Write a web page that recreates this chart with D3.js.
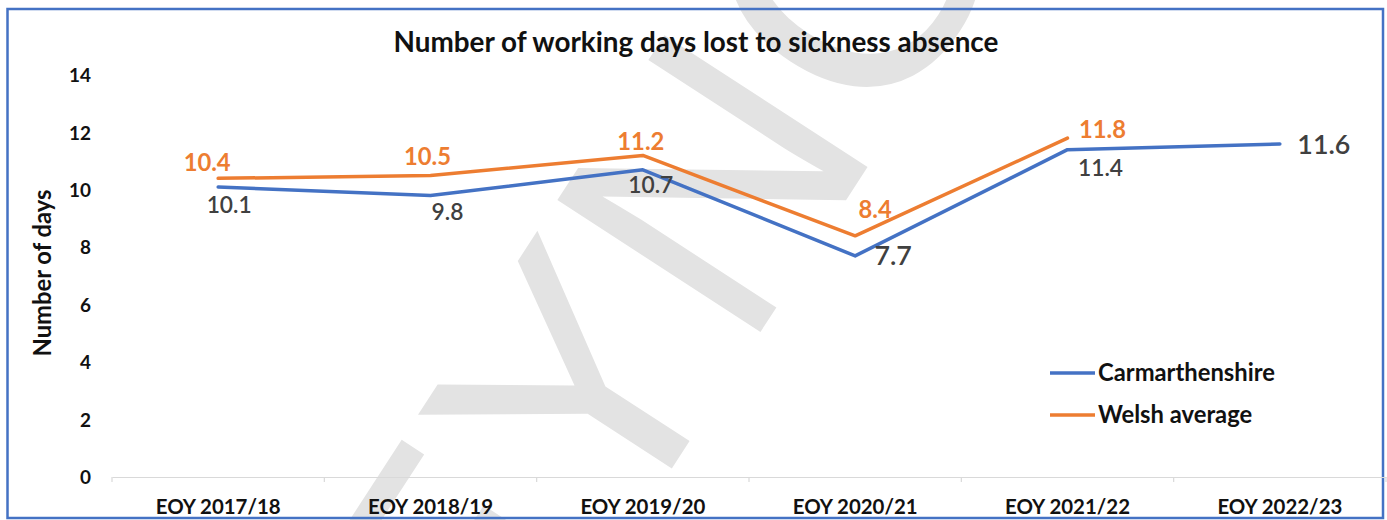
<!DOCTYPE html>
<html>
<head>
<meta charset="utf-8">
<script src="https://cdn.jsdelivr.net/npm/d3@7"></script>
<style>
  html, body { margin: 0; padding: 0; background: #fff; }
  svg { display: block; }
</style>
</head>
<body>
<svg id="chart" width="1387" height="520"></svg>
<script>
// ---- data ----
const categories = ["EOY 2017/18", "EOY 2018/19", "EOY 2019/20", "EOY 2020/21", "EOY 2021/22", "EOY 2022/23"];
const carmarthenshire = [10.1, 9.8, 10.7, 7.7, 11.4, 11.6];
const welshAverage = [10.4, 10.5, 11.2, 8.4, 11.8, null];
const yTicks = [0, 2, 4, 6, 8, 10, 12, 14];
const seriesNames = ["Carmarthenshire", "Welsh average"];
const titleText = "Number of working days lost to sickness absence";
const yAxisTitle = "Number of days";
const watermarkText = "EYNC";

// ---- layout ----
const W = 1387, H = 520;
const FONT = "Lato, 'Open Sans', sans-serif";
const blue = "#4472C4", orange = "#ED7D31", labelGrey = "#404040";

// label nudges (dx, dy from the point to the label centre)
const blueLabelNudge = [[11, 18], [17, 16], [8, 15], [38, 0], [33, 18], [44, 1]];
const orangeLabelNudge = [[-11, -16], [-3, -19], [-2, -14], [20, -26], [35, -8], [0, 0]];
const blueLabelBig = [false, false, false, true, false, true];

const svg = d3.select("#chart");

const x = d3.scaleBand().domain(categories).range([112, 1386]).padding(0);
const y = d3.scaleLinear().domain([0, 14]).range([477, 75]);
const cx = c => x(c) + x.bandwidth() / 2;

// scale a text's font size so that its rendered width equals target
function fitWidth(sel, target) {
  const w = sel.node().getComputedTextLength();
  const fs = parseFloat(sel.attr("font-size"));
  const nfs = fs * target / w;
  sel.attr("font-size", nfs);
  return nfs;
}
function measureSize(str, weight, base, target) {
  const t = svg.append("text").attr("font-family", FONT).attr("font-weight", weight)
    .attr("font-size", base).text(str);
  const s = fitWidth(t, target);
  t.remove();
  return s;
}

// ---- background watermark ----
svg.append("text")
  .attr("font-family", "'Liberation Sans', Arial, sans-serif")
  .attr("font-size", 352)
  .attr("fill", "#e3e3e3")
  .attr("transform", "translate(489,750) rotate(-57)")
  .text(watermarkText);

// ---- frame ----
svg.append("rect")
  .attr("x", 7.5).attr("y", 9).attr("width", 1375.5).attr("height", 509)
  .attr("fill", "none").attr("stroke", blue).attr("stroke-width", 2.5);

// ---- title ----
const title = svg.append("text")
  .attr("x", 696).attr("y", 52)
  .attr("text-anchor", "middle")
  .attr("font-family", FONT).attr("font-weight", 700).attr("font-size", 24)
  .attr("fill", "#111")
  .text(titleText);
fitWidth(title, 605);

// ---- y axis (labels only) ----
const tickSize = measureSize("14", 700, 18, 22);
const yAxis = d3.axisLeft(y).tickValues(yTicks).tickSize(0).tickPadding(0).tickFormat(d3.format("d"));
const yg = svg.append("g").attr("transform", "translate(91,0)").call(yAxis);
yg.select(".domain").remove();
yg.selectAll("text")
  .attr("font-family", FONT).attr("font-weight", 700).attr("font-size", tickSize)
  .attr("fill", "#111").attr("dy", "0.35em");

const yTitle = svg.append("text")
  .attr("transform", "translate(43,273) rotate(-90)")
  .attr("text-anchor", "middle").attr("dy", "0.35em")
  .attr("font-family", FONT).attr("font-weight", 700).attr("font-size", 18)
  .attr("fill", "#111")
  .text(yAxisTitle);
fitWidth(yTitle, 167);

// ---- x axis ----
const catSize = measureSize(categories[0], 700, 18, 125);
const xAxis = d3.axisBottom(x).tickSize(0).tickPadding(0);
const xg = svg.append("g").attr("transform", "translate(0,477)").call(xAxis);
xg.select(".domain").attr("stroke", "#d9d9d9").attr("stroke-width", 1.2);
xg.selectAll(".tick text")
  .attr("y", 30).attr("dy", "0.35em")
  .attr("font-family", FONT).attr("font-weight", 700).attr("font-size", catSize)
  .attr("fill", "#111");
// category boundary tick marks
const bounds = categories.map(c => x(c)).concat([x.range()[1]]);
xg.selectAll("line.bound").data(bounds).enter().append("line")
  .attr("class", "bound")
  .attr("x1", d => d).attr("x2", d => d).attr("y1", 0).attr("y2", 5)
  .attr("stroke", "#d9d9d9").attr("stroke-width", 1.2);

// ---- lines ----
const line = d3.line()
  .defined(d => d.v != null)
  .x(d => cx(d.c)).y(d => y(d.v));

const blueData = categories.map((c, i) => ({ c, v: carmarthenshire[i] }));
const orangeData = categories.map((c, i) => ({ c, v: welshAverage[i] }));

svg.append("path").datum(blueData).attr("d", line)
  .attr("fill", "none").attr("stroke", blue).attr("stroke-width", 3.5)
  .attr("stroke-linejoin", "round").attr("stroke-linecap", "round");
svg.append("path").datum(orangeData).attr("d", line)
  .attr("fill", "none").attr("stroke", orange).attr("stroke-width", 3.5)
  .attr("stroke-linejoin", "round").attr("stroke-linecap", "round");

// ---- data labels ----
const lblSize = measureSize("10.1", 600, 18, 45);
const bigSize = measureSize("11.6", 600, 22, 53);
const orangeSize = measureSize("10.4", 700, 18, 47);

svg.selectAll("text.lblBlue").data(blueData).enter().append("text")
  .attr("class", "lblBlue")
  .attr("x", (d, i) => cx(d.c) + blueLabelNudge[i][0])
  .attr("y", (d, i) => y(d.v) + blueLabelNudge[i][1])
  .attr("dy", "0.35em").attr("text-anchor", "middle")
  .attr("font-family", FONT).attr("font-weight", 600)
  .attr("font-size", (d, i) => blueLabelBig[i] ? bigSize : lblSize)
  .attr("fill", labelGrey)
  .text(d => d3.format(".1f")(d.v));

svg.selectAll("text.lblOrange").data(orangeData.filter(d => d.v != null)).enter().append("text")
  .attr("class", "lblOrange")
  .attr("x", (d, i) => cx(d.c) + orangeLabelNudge[i][0])
  .attr("y", (d, i) => y(d.v) + orangeLabelNudge[i][1])
  .attr("dy", "0.35em").attr("text-anchor", "middle")
  .attr("font-family", FONT).attr("font-weight", 700).attr("font-size", orangeSize)
  .attr("fill", orange)
  .text(d => d3.format(".1f")(d.v));

// ---- legend ----
const legSize = measureSize(seriesNames[0], 700, 20, 177);
const legend = svg.append("g");
[[blue, 373], [orange, 415]].forEach(([col, ly], i) => {
  legend.append("line")
    .attr("x1", 1050).attr("x2", 1095).attr("y1", ly).attr("y2", ly)
    .attr("stroke", col).attr("stroke-width", 3.5);
  legend.append("text")
    .attr("x", 1098).attr("y", ly).attr("dy", "0.35em")
    .attr("font-family", FONT).attr("font-weight", 700).attr("font-size", legSize)
    .attr("fill", "#111")
    .text(seriesNames[i]);
});
</script>
</body>
</html>
